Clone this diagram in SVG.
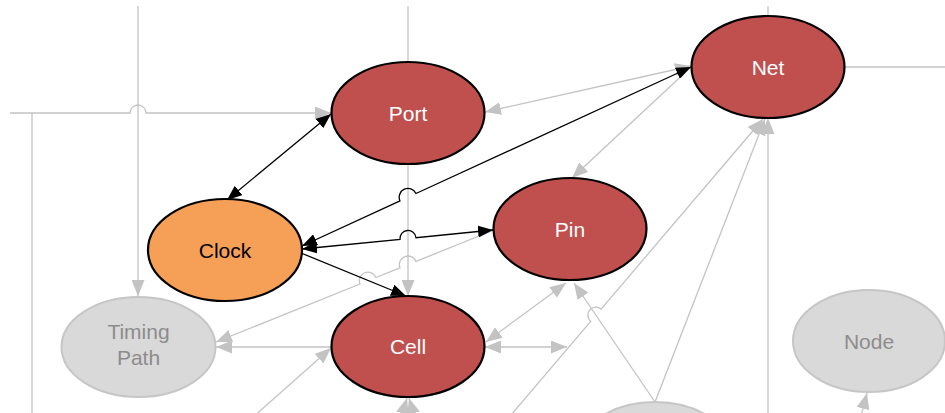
<svg xmlns="http://www.w3.org/2000/svg" width="945" height="413" viewBox="0 0 945 413">
<style>
.g{fill:none;stroke:#c3c3c3;stroke-width:1.3}
.b{fill:none;stroke:#000;stroke-width:1.3}
.red{fill:#c0504d;stroke:#000;stroke-width:2.2}
.org{fill:#f6a057;stroke:#000;stroke-width:2.2}
.gry{fill:#d9d9d9;stroke:#c6c6c6;stroke-width:2}
text{font-family:"Liberation Sans",Arial,sans-serif;font-size:21px;text-anchor:middle}
.tw{fill:#fff}
.tb{fill:#000}
.tg{fill:#8c8c8c}
</style>
<defs>
<marker id="ma" viewBox="0 0 15 12" refX="15" refY="6" markerWidth="15" markerHeight="12" markerUnits="userSpaceOnUse" orient="auto-start-reverse"><path d="M0,0 L15,6 L0,12z" fill="#000"/></marker>
<marker id="mg" viewBox="0 0 16 13" refX="16" refY="6.5" markerWidth="16" markerHeight="13" markerUnits="userSpaceOnUse" orient="auto-start-reverse"><path d="M0,0 L16,6.5 L0,13z" fill="#c3c3c3"/></marker>
</defs>
<g id="connectors">
<path class="g" d="M10,113 H130 A8,8 0 0 1 146,113 H331" marker-end="url(#mg)"/>
<path class="g" d="M32,113 V413"/>
<path class="g" d="M138,6 V296" marker-end="url(#mg)"/>
<path class="g" d="M408,6 V62"/>
<path class="g" d="M408,164 V296" marker-end="url(#mg)"/>
<path class="g" d="M768,6 V16"/>
<path class="g" d="M845,67 H945"/>
<path class="g" d="M485,112 L691,66" marker-start="url(#mg)" marker-end="url(#mg)"/>
<path class="g" d="M690,68 L572,178" marker-end="url(#mg)"/>
<path class="g" d="M494,230 L416,261.4 A8,8 0 0 0 400,267.9 L376,277.5 A8,8 0 0 0 360,284 L216,342" marker-end="url(#mg)"/>
<path class="g" d="M566,283 L486,342" marker-start="url(#mg)" marker-end="url(#mg)"/>
<path class="g" d="M485,347 H567" marker-start="url(#mg)" marker-end="url(#mg)"/>
<path class="g" d="M331,347 H216" marker-end="url(#mg)"/>
<path class="g" d="M252,418 L331,348" marker-end="url(#mg)"/>
<path class="g" d="M511,415 L590.7,321.3 A8,8 0 0 1 601.1,309.1 L763,119" marker-end="url(#mg)"/>
<path class="g" d="M655,402 L574,283" marker-end="url(#mg)"/>
<path class="g" d="M655,402 L765,119" marker-end="url(#mg)"/>
<path class="g" d="M768,413 V118" marker-end="url(#mg)"/>
<path class="g" d="M399,425 L407,398" marker-end="url(#mg)"/>
<path class="g" d="M417,425 L409,398" marker-end="url(#mg)"/>
<path class="g" d="M860,420 L867,393" marker-end="url(#mg)"/>
<path class="b" d="M227,200 L331,114" marker-start="url(#ma)" marker-end="url(#ma)"/>
<path class="b" d="M302,246 L400,200.9 A8.5,8.5 0 0 1 416,193.5 L691,67" marker-start="url(#ma)" marker-end="url(#ma)"/>
<path class="b" d="M302,249 L400,239.3 A8,8 0 0 1 416,237.7 L493,230" marker-start="url(#ma)" marker-end="url(#ma)"/>
<path class="b" d="M301,253 L406,296" marker-end="url(#ma)"/>
</g>
<g id="node-port"><ellipse class="red" cx="408" cy="113" rx="76.5" ry="51"/><text class="tw" x="408" y="120.5">Port</text></g>
<g id="node-net"><ellipse class="red" cx="768" cy="67" rx="76.5" ry="51"/><text class="tw" x="768" y="74.5">Net</text></g>
<g id="node-clock"><ellipse class="org" cx="225" cy="250" rx="77" ry="51"/><text class="tb" x="225" y="257.5">Clock</text></g>
<g id="node-pin"><ellipse class="red" cx="570" cy="229" rx="76.5" ry="51"/><text class="tw" x="570" y="236.5">Pin</text></g>
<g id="node-cell"><ellipse class="red" cx="408" cy="346.5" rx="76.5" ry="50.5"/><text class="tw" x="408" y="354">Cell</text></g>
<g id="node-timing-path"><ellipse class="gry" cx="138.5" cy="347" rx="77" ry="50"/><text class="tg" x="138.5" y="339">Timing</text><text class="tg" x="138.5" y="365">Path</text></g>
<g id="node-node"><ellipse class="gry" cx="869" cy="341" rx="76" ry="51"/><text class="tg" x="869" y="348.5">Node</text></g>
<g id="node-bottom"><ellipse class="gry" cx="655" cy="453" rx="77" ry="51"/></g>
</svg>
